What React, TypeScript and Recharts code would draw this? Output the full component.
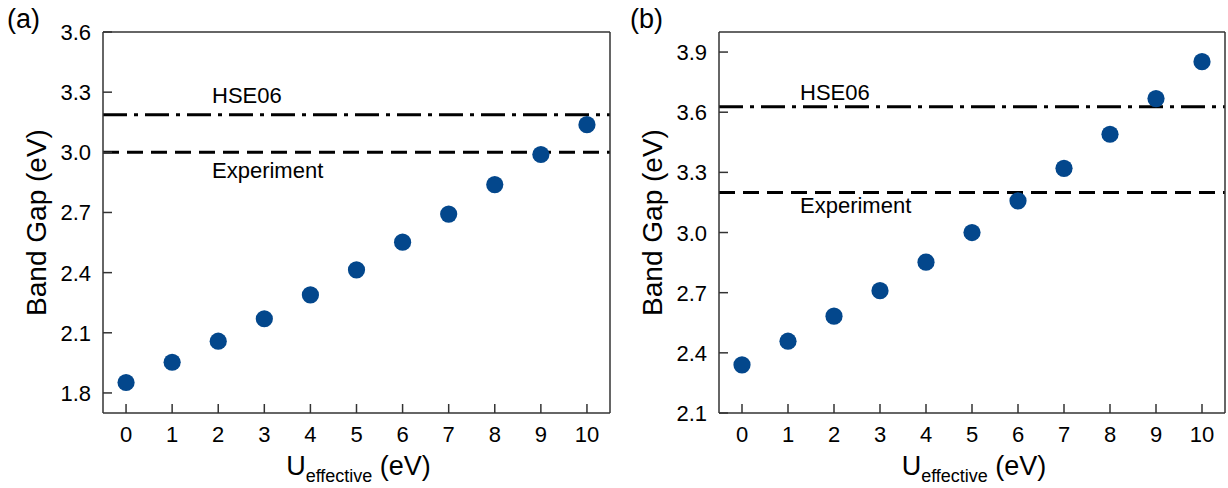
import React from 'react';
import { ScatterChart, Scatter, XAxis, YAxis, ReferenceLine, Label } from 'recharts';

const uValues = [0, 1, 2, 3, 4, 5, 6, 7, 8, 9, 10];
const gapA = [1.852, 1.953, 2.058, 2.17, 2.289, 2.414, 2.552, 2.692, 2.839, 2.989, 3.138];
const gapB = [2.34, 2.458, 2.583, 2.71, 2.852, 3.0, 3.158, 3.32, 3.49, 3.668, 3.852];
const xTicks = [0, 1, 2, 3, 4, 5, 6, 7, 8, 9, 10];
const yTicksA = [1.8, 2.1, 2.4, 2.7, 3.0, 3.3, 3.6];
const yTicksB = [2.1, 2.4, 2.7, 3.0, 3.3, 3.6, 3.9];
const hseA = 3.187;
const expA = 3.0;
const hseB = 3.627;
const expB = 3.2;

const FONT = '"Liberation Sans", Arial, Helvetica, sans-serif';
const AXIS = '#333333';
const DOT = '#03478c';

const XTick = (props: any) => {
  const { x, y, payload } = props;
  return (
    <g>
      <line x1={x} x2={x} y1={y} y2={y - 9} stroke={AXIS} strokeWidth={1.5} />
      <text x={x} y={y + 29} textAnchor="middle" fontSize={22} fontFamily={FONT} fill="#000">
        {String(payload.value)}
      </text>
    </g>
  );
};

const YTick = (props: any) => {
  const { x, y, payload } = props;
  return (
    <g>
      <line x1={x} x2={x + 9} y1={y} y2={y} stroke={AXIS} strokeWidth={1.5} />
      <text x={x - 12} y={y + 8} textAnchor="end" fontSize={22} fontFamily={FONT} fill="#000">
        {Number(payload.value).toFixed(1)}
      </text>
    </g>
  );
};

const XTitle = (props: any) => {
  const vb = props.viewBox || {};
  const cx = vb.x + vb.width / 2;
  return (
    <text x={cx + 2} y={475} textAnchor="middle" fontSize={27} fontFamily={FONT} fill="#000">
      U
      <tspan fontSize={18} dy={7}>effective</tspan>
      <tspan dy={-7}> (eV)</tspan>
    </text>
  );
};

const YTitle = (props: any) => {
  const vb = props.viewBox || {};
  const bx = vb.x + vb.width - 57;
  const cy = vb.y + vb.height / 2;
  return (
    <g>
      <text
        x={bx}
        y={cy}
        transform={`rotate(-90, ${bx}, ${cy})`}
        textAnchor="middle"
        fontSize={28}
        fontFamily={FONT}
        fill="#000"
      >
        Band Gap (eV)
      </text>
      <text x={props.letterX} y={28} fontSize={27} fontFamily={FONT} fill="#000">
        {props.letter}
      </text>
    </g>
  );
};

const RefText = (props: any) => {
  const vb = props.viewBox || {};
  return (
    <text x={vb.x + props.dx} y={vb.y + props.dy} fontSize={22} fontFamily={FONT} fill="#000">
      {props.text}
    </text>
  );
};

const dotShape = (props: any) => <circle cx={props.cx} cy={props.cy} r={8.6} fill={DOT} />;

type PanelProps = {
  letter: string;
  letterX: number;
  values: number[];
  yDomain: [number, number];
  yTicks: number[];
  hse: number;
  exp: number;
  margin: { top: number; right: number; bottom: number; left: number };
  refDx: number;
  hseDy: number;
  expDy: number;
};

function Panel(p: PanelProps) {
  const data = uValues.map((u, i) => ({ u, gap: p.values[i] }));
  const axisLine = { stroke: AXIS, strokeWidth: 1.5 };
  return (
    <ScatterChart width={614} height={488} margin={p.margin}>
      <XAxis
        type="number"
        dataKey="u"
        domain={[-0.5, 10.5]}
        ticks={xTicks}
        interval={0}
        allowDataOverflow
        height={1}
        tickSize={0}
        tickMargin={0}
        tickLine={false}
        axisLine={axisLine}
        tick={<XTick />}
      >
        <Label content={<XTitle />} />
      </XAxis>
      <XAxis
        xAxisId="top"
        orientation="top"
        type="number"
        domain={[-0.5, 10.5]}
        height={1}
        tick={false}
        tickLine={false}
        axisLine={axisLine}
      />
      <YAxis
        type="number"
        dataKey="gap"
        domain={p.yDomain}
        ticks={p.yTicks}
        interval={0}
        allowDataOverflow
        width={1}
        tickSize={0}
        tickMargin={0}
        tickLine={false}
        axisLine={axisLine}
        tick={<YTick />}
      >
        <Label content={<YTitle letter={p.letter} letterX={p.letterX} />} />
      </YAxis>
      <YAxis
        yAxisId="right"
        orientation="right"
        type="number"
        domain={p.yDomain}
        width={1}
        tick={false}
        tickLine={false}
        axisLine={axisLine}
      />
      <ReferenceLine
        y={p.hse}
        stroke="#000"
        strokeWidth={3}
        strokeDasharray="24 7 4 7"
        label={<RefText text="HSE06" dx={p.refDx} dy={p.hseDy} />}
      />
      <ReferenceLine
        y={p.exp}
        stroke="#000"
        strokeWidth={3}
        strokeDasharray="16 8"
        label={<RefText text="Experiment" dx={p.refDx} dy={p.expDy} />}
      />
      <Scatter data={data} dataKey="gap" isAnimationActive={false} shape={dotShape} />
    </ScatterChart>
  );
}

export default function App() {
  return (
    <div style={{ position: 'absolute', left: 0, top: 0, width: 1228, height: 488, background: '#fff' }}>
      <div style={{ position: 'absolute', left: 0, top: 0 }}>
        <Panel
          letter="(a)"
          letterX={7}
          values={gapA}
          yDomain={[1.7, 3.6]}
          yTicks={yTicksA}
          hse={hseA}
          exp={expA}
          margin={{ top: 31, right: 3, bottom: 74, left: 102 }}
          refDx={109}
          hseDy={-12}
          expDy={26}
        />
      </div>
      <div style={{ position: 'absolute', left: 614, top: 0 }}>
        <Panel
          letter="(b)"
          letterX={16}
          values={gapB}
          yDomain={[2.1, 4.0]}
          yTicks={yTicksB}
          hse={hseB}
          exp={expB}
          margin={{ top: 31, right: 2, bottom: 74, left: 104 }}
          refDx={81}
          hseDy={-7}
          expDy={21}
        />
      </div>
    </div>
  );
}
